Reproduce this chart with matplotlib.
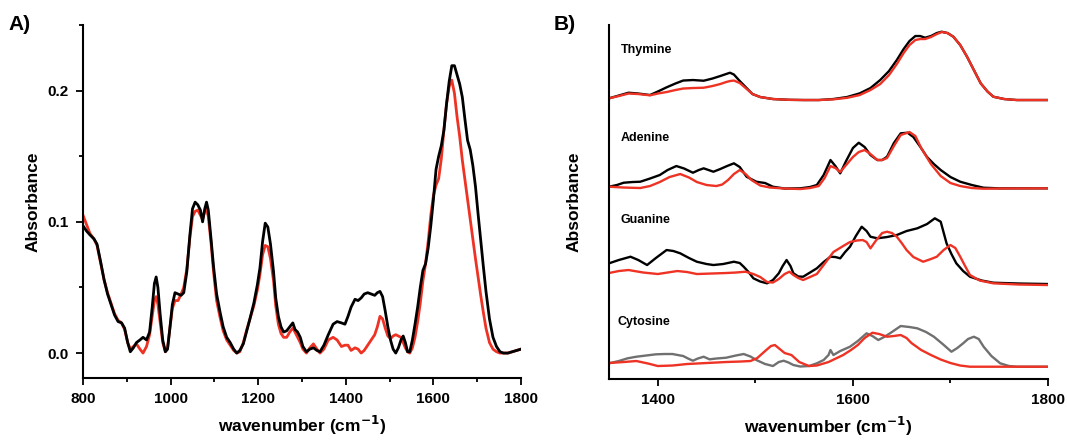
import numpy as np
import matplotlib
matplotlib.use("Agg")
import matplotlib.pyplot as plt
from matplotlib.ticker import MultipleLocator

plt.rcParams['font.family'] = ['Liberation Sans', 'DejaVu Sans']
plt.rcParams['font.weight'] = 'bold'

RED = '#ee3224'
GRAY = '#707070'

# ---- panel A: full spectra ----
wn_a = [800, 808, 816, 825, 832, 840, 848, 856, 864, 872, 880, 888, 895, 902, 908,
        915, 922, 930, 937, 945, 952, 958, 963, 967, 971, 976, 982, 988, 993, 998,
        1004, 1010, 1017, 1024, 1030, 1037, 1044, 1050, 1056, 1062, 1068, 1073, 1078,
        1082, 1086, 1092, 1098, 1105, 1113, 1120, 1128, 1136, 1144, 1151, 1158, 1166,
        1174, 1181, 1190, 1198, 1204, 1210, 1216, 1222, 1228, 1235, 1240, 1246, 1252,
        1258, 1265, 1272, 1279, 1284, 1290, 1296, 1302, 1310, 1318, 1326, 1334, 1341,
        1350, 1360, 1371, 1380, 1390, 1398, 1405, 1412, 1421, 1428, 1435, 1442, 1450,
        1458, 1466, 1472, 1478, 1484, 1490, 1496, 1502, 1508, 1514, 1520, 1526, 1531,
        1536, 1541, 1546, 1552, 1558, 1564, 1570, 1576, 1582, 1588, 1594, 1600, 1606,
        1612, 1618, 1624, 1630, 1636, 1642, 1648, 1654, 1660, 1666, 1672, 1678, 1684,
        1690, 1696, 1702, 1708, 1714, 1720, 1728, 1736, 1744, 1752, 1760, 1770, 1780,
        1790, 1800]

abs_black = [0.097, 0.093, 0.090, 0.087, 0.083, 0.070, 0.056, 0.045, 0.037, 0.029, 0.024,
             0.023, 0.019, 0.008, 0.001, 0.004, 0.008, 0.010, 0.012, 0.010, 0.016, 0.035,
             0.053, 0.058, 0.050, 0.030, 0.010, 0.001, 0.003, 0.018, 0.037, 0.046, 0.045,
             0.044, 0.046, 0.062, 0.090, 0.110, 0.115, 0.113, 0.109, 0.100, 0.110, 0.115,
             0.109, 0.088, 0.066, 0.045, 0.031, 0.020, 0.012, 0.008, 0.003, 0.000, 0.002,
             0.007, 0.017, 0.026, 0.038, 0.052, 0.065, 0.085, 0.099, 0.096, 0.083, 0.062,
             0.042, 0.028, 0.020, 0.016, 0.017, 0.020, 0.023, 0.018, 0.016, 0.012, 0.005,
             0.001, 0.003, 0.004, 0.002, 0.001, 0.006, 0.014, 0.022, 0.024, 0.023, 0.022,
             0.028, 0.035, 0.041, 0.040, 0.042, 0.045, 0.046, 0.045, 0.044, 0.046, 0.047,
             0.043, 0.032, 0.020, 0.010, 0.003, 0.000, 0.004, 0.010, 0.013, 0.008, 0.001,
             0.001, 0.010, 0.022, 0.035, 0.050, 0.063, 0.068, 0.080, 0.097, 0.117, 0.140,
             0.150, 0.158, 0.170, 0.190, 0.207, 0.219, 0.219, 0.212, 0.205, 0.195, 0.178,
             0.162, 0.155, 0.143, 0.127, 0.106, 0.086, 0.066, 0.047, 0.026, 0.012, 0.005,
             0.001, 0.000, 0.000, 0.001, 0.002, 0.003]

abs_red = [0.105, 0.098, 0.091, 0.087, 0.082, 0.069, 0.056, 0.046, 0.038, 0.030, 0.025,
           0.023, 0.018, 0.008, 0.003, 0.005, 0.007, 0.003, 0.000, 0.005, 0.014, 0.028,
           0.040, 0.043, 0.037, 0.024, 0.008, 0.001, 0.004, 0.018, 0.034, 0.040, 0.040,
           0.045, 0.050, 0.064, 0.088, 0.104, 0.108, 0.109, 0.105, 0.102, 0.108, 0.110,
           0.104, 0.085, 0.062, 0.040, 0.027, 0.017, 0.010, 0.006, 0.002, 0.000, 0.001,
           0.008, 0.018, 0.026, 0.036, 0.048, 0.060, 0.075, 0.082, 0.081, 0.072, 0.055,
           0.036, 0.022, 0.015, 0.012, 0.012, 0.016, 0.019, 0.016, 0.012, 0.008, 0.003,
           0.000, 0.004, 0.007, 0.003, 0.000, 0.003, 0.010, 0.012, 0.010, 0.005, 0.006,
           0.006, 0.002, 0.004, 0.003, 0.000, 0.002, 0.006, 0.010, 0.014, 0.020, 0.028,
           0.026, 0.019, 0.013, 0.011, 0.013, 0.014, 0.013, 0.012, 0.008, 0.004, 0.001,
           0.000, 0.004, 0.012, 0.024, 0.038, 0.055, 0.068, 0.085, 0.105, 0.120, 0.128,
           0.133, 0.148, 0.170, 0.190, 0.203, 0.208, 0.198, 0.180, 0.165, 0.147, 0.132,
           0.117, 0.102, 0.087, 0.072, 0.058, 0.044, 0.031, 0.019, 0.008, 0.003, 0.001,
           0.000, 0.000, 0.000, 0.001, 0.002, 0.003]

# ---- panel B: nucleobase spectra (height above own baseline, a.u.) ----
bases = ['Thymine', 'Adenine', 'Guanine', 'Cytosine']
base_offsets = [2.79, 1.907, 0.95, 0.123]

thy_wn = [1350, 1360, 1370, 1380, 1392, 1400, 1409, 1418, 1426, 1436, 1447, 1456, 1464,
          1470, 1474, 1478, 1484, 1490, 1497, 1505, 1518, 1535, 1550, 1565, 1580, 1594,
          1607, 1618, 1628, 1637, 1645, 1652, 1658, 1664, 1669, 1674, 1680, 1686, 1691,
          1697, 1703, 1710, 1717, 1724, 1731, 1738, 1744, 1755, 1768, 1785, 1800]
thy_black = [0.017, 0.045, 0.073, 0.065, 0.05, 0.085, 0.127, 0.165, 0.195, 0.20, 0.193,
             0.215, 0.24, 0.26, 0.273, 0.255, 0.19, 0.13, 0.06, 0.03, 0.01, 0.002, 0.0,
             0.0, 0.01, 0.03, 0.067, 0.12, 0.20, 0.29, 0.40, 0.51, 0.59, 0.64, 0.64, 0.623,
             0.64, 0.67, 0.683, 0.67, 0.633, 0.55, 0.433, 0.30, 0.167, 0.085, 0.033, 0.01,
             0.0, 0.0, 0.0]
thy_red = [0.017, 0.04, 0.065, 0.06, 0.047, 0.065, 0.08, 0.10, 0.115, 0.12, 0.123, 0.14,
           0.16, 0.18, 0.19, 0.195, 0.17, 0.12, 0.06, 0.03, 0.01, 0.002, 0.0, 0.0, 0.007,
           0.022, 0.05, 0.10, 0.16, 0.25, 0.36, 0.47, 0.55, 0.60, 0.61, 0.61, 0.63, 0.66,
           0.68, 0.67, 0.633, 0.55, 0.433, 0.30, 0.167, 0.085, 0.033, 0.01, 0.0, 0.0, 0.0]

ade_wn_black = [1350, 1358, 1365, 1374, 1382, 1392, 1402, 1410, 1419, 1427, 1436, 1442,
                1447, 1452, 1457, 1464, 1471, 1478, 1484, 1491, 1501, 1510, 1518, 1530,
                1546, 1556, 1563, 1570, 1577, 1582, 1587, 1593, 1600, 1606, 1612, 1618,
                1625, 1630, 1635, 1642, 1649, 1656, 1662, 1669, 1676, 1683, 1690, 1700,
                1710, 1722, 1734, 1750, 1770, 1800]
ade_black = [0.016, 0.033, 0.056, 0.063, 0.066, 0.098, 0.133, 0.183, 0.223, 0.198, 0.156,
             0.183, 0.20, 0.183, 0.166, 0.193, 0.223, 0.25, 0.213, 0.116, 0.066, 0.053,
             0.016, -0.002, 0.0, 0.013, 0.033, 0.133, 0.283, 0.223, 0.15, 0.273, 0.403,
             0.456, 0.413, 0.333, 0.283, 0.283, 0.316, 0.453, 0.55, 0.556, 0.513, 0.416,
             0.313, 0.243, 0.183, 0.113, 0.066, 0.033, 0.006, 0.0, 0.0, 0.0]
ade_wn_red = [1350, 1365, 1382, 1392, 1402, 1412, 1423, 1432, 1440, 1450, 1460, 1466, 1472,
              1478, 1484, 1490, 1496, 1505, 1515, 1530, 1546, 1556, 1565, 1571, 1577, 1582,
              1587, 1593, 1600, 1606, 1612, 1618, 1625, 1630, 1635, 1642, 1649, 1658, 1664,
              1670, 1680, 1690, 1700, 1710, 1722, 1734, 1750, 1800]
ade_red = [0.016, 0.008, 0.003, 0.023, 0.063, 0.113, 0.143, 0.108, 0.063, 0.033, 0.023,
           0.038, 0.083, 0.143, 0.183, 0.143, 0.083, 0.028, 0.008, -0.002, -0.007, 0.003,
           0.023, 0.103, 0.223, 0.203, 0.163, 0.233, 0.313, 0.363, 0.383, 0.343, 0.283,
           0.283, 0.303, 0.423, 0.533, 0.563, 0.523, 0.403, 0.243, 0.123, 0.053, 0.023,
           0.003, -0.004, -0.002, 0.0]

gua_wn_black = [1350, 1360, 1372, 1380, 1389, 1398, 1409, 1416, 1423, 1432, 1440, 1450,
                1457, 1467, 1478, 1484, 1488, 1493, 1498, 1505, 1512, 1518, 1524, 1528,
                1532, 1536, 1539, 1544, 1549, 1556, 1563, 1570, 1577, 1582, 1587, 1592,
                1597, 1603, 1609, 1614, 1618, 1625, 1635, 1645, 1655, 1666, 1676, 1684,
                1690, 1696, 1701, 1706, 1713, 1720, 1732, 1744, 1770, 1800]
gua_black = [0.207, 0.24, 0.273, 0.24, 0.19, 0.26, 0.34, 0.33, 0.307, 0.26, 0.223, 0.20,
             0.19, 0.20, 0.223, 0.21, 0.173, 0.12, 0.057, 0.025, 0.007, 0.04, 0.107, 0.18,
             0.24, 0.18, 0.107, 0.075, 0.073, 0.115, 0.157, 0.22, 0.273, 0.27, 0.257, 0.32,
             0.373, 0.48, 0.573, 0.53, 0.473, 0.457, 0.47, 0.49, 0.53, 0.557, 0.60, 0.657,
             0.623, 0.407, 0.30, 0.207, 0.13, 0.073, 0.035, 0.013, 0.005, 0.0]
gua_wn_red = [1350, 1360, 1370, 1385, 1400, 1410, 1420, 1430, 1440, 1455, 1470, 1480, 1490,
              1498, 1505, 1512, 1518, 1524, 1530, 1535, 1539, 1544, 1549, 1556, 1563, 1570,
              1580, 1590, 1597, 1604, 1610, 1614, 1618, 1624, 1630, 1635, 1640, 1645, 1650,
              1655, 1662, 1672, 1680, 1686, 1693, 1700, 1705, 1710, 1715, 1720, 1730, 1744,
              1770, 1800]
gua_red = [0.11, 0.13, 0.14, 0.115, 0.10, 0.115, 0.13, 0.12, 0.10, 0.105, 0.11, 0.115,
           0.123, 0.10, 0.07, 0.02, 0.015, 0.05, 0.10, 0.123, 0.09, 0.06, 0.04, 0.07, 0.10,
           0.19, 0.32, 0.38, 0.42, 0.435, 0.44, 0.42, 0.357, 0.44, 0.51, 0.523, 0.51, 0.473,
           0.41, 0.34, 0.27, 0.223, 0.25, 0.273, 0.34, 0.39, 0.36, 0.273, 0.18, 0.09, 0.035,
           0.007, -0.005, -0.01]

cyt_wn_gray = [1350, 1360, 1369, 1378, 1388, 1398, 1407, 1415, 1426, 1431, 1436, 1441, 1447,
               1453, 1460, 1470, 1480, 1488, 1495, 1501, 1510, 1518, 1524, 1529, 1534, 1539,
               1546, 1555, 1563, 1570, 1575, 1577, 1580, 1587, 1597, 1605, 1614, 1620, 1626,
               1632, 1638, 1649, 1658, 1666, 1675, 1683, 1692, 1701, 1707, 1713, 1718, 1724,
               1729, 1734, 1742, 1751, 1760, 1768, 1800]
cyt_gray = [0.034, 0.057, 0.084, 0.10, 0.112, 0.124, 0.127, 0.127, 0.107, 0.082, 0.06, 0.082,
            0.10, 0.074, 0.082, 0.09, 0.112, 0.127, 0.102, 0.067, 0.027, 0.007, 0.047, 0.06,
            0.042, 0.017, 0.002, 0.007, 0.034, 0.067, 0.117, 0.167, 0.117, 0.157, 0.20, 0.257,
            0.334, 0.307, 0.267, 0.297, 0.334, 0.407, 0.397, 0.384, 0.347, 0.30, 0.227, 0.15,
            0.187, 0.234, 0.277, 0.30, 0.277, 0.20, 0.107, 0.034, 0.007, 0.0, 0.0]
cyt_wn_red = [1350, 1365, 1378, 1390, 1400, 1415, 1430, 1450, 1470, 1485, 1495, 1502, 1510,
              1516, 1520, 1525, 1530, 1537, 1545, 1555, 1563, 1575, 1590, 1598, 1605, 1612,
              1620, 1627, 1635, 1642, 1649, 1655, 1660, 1670, 1680, 1690, 1700, 1710, 1720,
              1740, 1800]
cyt_red = [0.037, 0.047, 0.057, 0.032, 0.007, 0.012, 0.027, 0.037, 0.047, 0.052, 0.057,
           0.087, 0.157, 0.207, 0.217, 0.177, 0.137, 0.117, 0.047, 0.007, 0.012, 0.047, 0.117,
           0.167, 0.217, 0.287, 0.34, 0.327, 0.30, 0.307, 0.317, 0.287, 0.237, 0.167, 0.117,
           0.072, 0.037, 0.012, 0.0, 0.0, 0.0]

fig = plt.figure(figsize=(10.67, 4.4), dpi=100)
ax_a = fig.add_axes([0.0778, 0.1409, 0.4105, 0.8023])
ax_b = fig.add_axes([0.5708, 0.1386, 0.4114, 0.8045])

# panel A
ax_a.plot(wn_a, abs_red, color=RED, lw=2.0, solid_joinstyle='round')
ax_a.plot(wn_a, abs_black, color='black', lw=2.0, solid_joinstyle='round')
ax_a.set_xlim(800, 1800)
ax_a.set_ylim(-0.019, 0.25)
ax_a.xaxis.set_major_locator(MultipleLocator(200))
ax_a.xaxis.set_minor_locator(MultipleLocator(100))
ax_a.yaxis.set_major_locator(MultipleLocator(0.1))
ax_a.yaxis.set_minor_locator(MultipleLocator(0.05))
ax_a.yaxis.set_major_formatter(matplotlib.ticker.FormatStrFormatter('%.1f'))
ax_a.set_ylabel('Absorbance', fontsize=12.5, fontweight='bold', labelpad=5)

# panel B
traces = [
    [(thy_wn, thy_black, 'black'), (thy_wn, thy_red, RED)],
    [(ade_wn_black, ade_black, 'black'), (ade_wn_red, ade_red, RED)],
    [(gua_wn_black, gua_black, 'black'), (gua_wn_red, gua_red, RED)],
    [(cyt_wn_gray, cyt_gray, GRAY), (cyt_wn_red, cyt_red, RED)],
]
label_pos = [3.29, 2.41, 1.59, 0.57]
for name, off, pair, ly in zip(bases, base_offsets, traces, label_pos):
    for wn, val, col in pair:
        ax_b.plot(wn, np.array(val) + off, color=col, lw=1.7, solid_joinstyle='round')
    ax_b.text(1362 if name != 'Cytosine' else 1359, ly, name, fontsize=9,
              fontweight='bold', va='center')
ax_b.set_xlim(1350, 1800)
ax_b.set_ylim(0, 3.54)
ax_b.xaxis.set_major_locator(MultipleLocator(200))
ax_b.xaxis.set_minor_locator(MultipleLocator(100))
ax_b.set_yticks([])
ax_b.set_ylabel('Absorbance', fontsize=12.5, fontweight='bold', labelpad=20)

for ax in (ax_a, ax_b):
    ax.spines['right'].set_visible(False)
    ax.spines['top'].set_visible(False)
    ax.spines['left'].set_linewidth(1.5)
    ax.spines['bottom'].set_linewidth(1.5)
    ax.tick_params(which='major', direction='out', length=5, width=1.3,
                   labelsize=11, pad=5)
    ax.tick_params(which='minor', direction='out', length=3, width=1.3)
    for lab in ax.get_xticklabels() + ax.get_yticklabels():
        lab.set_fontweight('bold')
    ax.set_xlabel('wavenumber (cm$^{\\mathbf{-1}}$)', fontsize=12.5, fontweight='bold',
                  labelpad=6)

fig.text(0.0084, 0.932, 'A)', fontsize=15, fontweight='bold')
fig.text(0.519, 0.932, 'B)', fontsize=15, fontweight='bold')

fig.savefig('out.png', dpi=100)
